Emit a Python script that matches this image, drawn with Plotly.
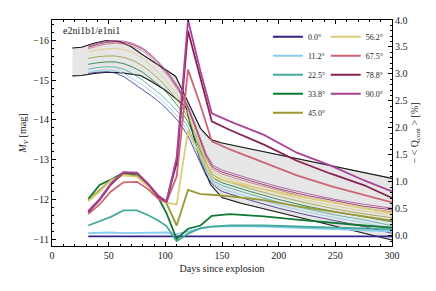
import plotly.graph_objects as go

# ---------------- data ----------------
angles = ["0.0°", "11.2°", "22.5°", "33.8°", "45.0°", "56.2°", "67.5°", "78.8°", "90.0°"]
colors = ["#332288", "#88CCEE", "#44AA99", "#117733", "#999933",
          "#DDCC77", "#CC6677", "#882255", "#AA4499"]

# light curves (M_V, left axis)
lc_days = [32, 40, 48, 56, 64, 72, 80, 88, 96, 104, 112, 120, 128, 136,
           142, 150, 175, 200, 225, 250, 275, 300]
lc_00 = [-15.17, -15.20, -15.21, -15.18, -15.08, -14.93, -14.76, -14.60, -14.42, -14.20, -13.95, -13.60, -13.10, -12.60,
         -12.37, -12.20, -11.98, -11.78, -11.61, -11.47, -11.32, -11.15]
lc_11 = [-15.20, -15.24, -15.26, -15.24, -15.16, -15.03, -14.88, -14.71, -14.52, -14.30, -14.05, -13.70, -13.20, -12.68,
         -12.42, -12.27, -12.05, -11.86, -11.69, -11.54, -11.42, -11.25]
lc_22 = [-15.28, -15.32, -15.34, -15.33, -15.27, -15.15, -15.00, -14.83, -14.64, -14.42, -14.17, -13.82, -13.30, -12.75,
         -12.47, -12.35, -12.13, -11.93, -11.76, -11.61, -11.49, -11.34]
lc_33 = [-15.40, -15.44, -15.46, -15.46, -15.41, -15.32, -15.20, -15.03, -14.84, -14.60, -14.32, -13.95, -13.42, -12.84,
         -12.54, -12.42, -12.20, -12.00, -11.83, -11.69, -11.56, -11.44]
lc_45 = [-15.55, -15.59, -15.61, -15.61, -15.57, -15.49, -15.36, -15.19, -14.98, -14.73, -14.45, -14.06, -13.52, -12.92,
         -12.62, -12.50, -12.27, -12.08, -11.91, -11.76, -11.64, -11.54]
lc_56 = [-15.71, -15.76, -15.79, -15.80, -15.77, -15.69, -15.55, -15.36, -15.13, -14.87, -14.57, -14.16, -13.60, -13.00,
         -12.69, -12.57, -12.35, -12.15, -11.98, -11.83, -11.71, -11.61]
lc_67 = [-15.79, -15.86, -15.91, -15.93, -15.91, -15.85, -15.73, -15.55, -15.32, -15.05, -14.72, -14.27, -13.68, -13.05,
         -12.76, -12.64, -12.42, -12.23, -12.05, -11.91, -11.78, -11.69]
lc_78 = [-15.83, -15.90, -15.95, -15.97, -15.95, -15.89, -15.78, -15.60, -15.37, -15.10, -14.77, -14.31, -13.72, -13.10,
         -12.81, -12.69, -12.47, -12.27, -12.10, -11.96, -11.83, -11.74]
lc_90 = [-15.86, -15.93, -15.98, -16.00, -15.98, -15.92, -15.81, -15.63, -15.40, -15.13, -14.80, -14.35, -13.76, -13.15,
         -12.86, -12.74, -12.52, -12.32, -12.15, -12.00, -11.88, -11.78]

# continuum polarisation (-<Q_cont> [%], right axis)
pol_days = [32, 42, 52, 63, 75, 85, 94, 101, 110, 120, 131, 141, 157, 187, 216, 246, 275, 300]
pol_00 = [-0.01, -0.01, -0.01, -0.01, -0.01, -0.01, -0.01, -0.01, -0.01, -0.01, -0.01, -0.01, -0.01, -0.01, -0.01, -0.01, -0.01, -0.01]
pol_11 = [0.05, 0.06, 0.06, 0.05, 0.05, 0.05, 0.06, 0.06, 0.03, 0.08, 0.13, 0.17, 0.18, 0.17, 0.15, 0.12, 0.10, 0.08]
pol_22 = [0.19, 0.27, 0.35, 0.47, 0.47, 0.38, 0.28, 0.18, -0.10, 0.04, 0.14, 0.17, 0.19, 0.19, 0.17, 0.15, 0.13, 0.12]
pol_33 = [0.68, 0.94, 1.04, 1.17, 1.12, 0.94, 0.70, 0.42, -0.06, 0.13, 0.19, 0.37, 0.40, 0.36, 0.30, 0.24, 0.19, 0.15]
pol_45 = [0.65, 0.85, 1.03, 1.13, 1.11, 0.94, 0.73, 0.60, 0.19, 0.85, 0.77, 0.76, 0.73, 0.66, 0.55, 0.45, 0.36, 0.28]
pol_56 = [0.64, 0.82, 1.03, 1.12, 1.09, 0.91, 0.70, 0.61, 0.58, 1.95, 1.50, 1.08, 1.00, 0.86, 0.74, 0.62, 0.51, 0.42]
pol_67 = [0.40, 0.58, 0.82, 0.99, 1.00, 0.86, 0.68, 0.62, 1.10, 3.08, 2.42, 1.75, 1.60, 1.35, 1.12, 0.92, 0.76, 0.62]
pol_78 = [0.44, 0.66, 0.95, 1.17, 1.16, 0.95, 0.72, 0.64, 1.35, 3.80, 2.92, 2.12, 1.96, 1.69, 1.39, 1.15, 0.94, 0.70]
pol_90 = [0.46, 0.68, 0.97, 1.18, 1.17, 0.96, 0.74, 0.64, 1.45, 4.00, 3.05, 2.27, 2.12, 1.87, 1.54, 1.30, 1.03, 0.82]

# reference models bounding the grey band
e2_days = [18, 26, 37, 48, 60, 70, 80, 90, 100, 109, 120, 131, 140, 150, 300]
e2_mag = [-15.81, -15.83, -15.93, -16.00, -15.97, -15.84, -15.64, -15.45, -15.28, -15.10, -14.45, -13.79, -13.51, -13.42, -12.53]
e1_days = [18, 26, 37, 48, 60, 78, 87, 100, 118, 130, 140, 150, 166, 300]
e1_mag = [-15.11, -15.12, -15.17, -15.20, -15.19, -15.12, -14.98, -14.75, -14.33, -13.05, -12.37, -12.05, -11.91, -10.98]

model_label = "e2ni1b1/e1ni1"

light_curves = [lc_00, lc_11, lc_22, lc_33, lc_45, lc_56, lc_67, lc_78, lc_90]
pol_curves = [pol_00, pol_11, pol_22, pol_33, pol_45, pol_56, pol_67, pol_78, pol_90]

FONT = "Liberation Serif"

fig = go.Figure()

# grey band
fig.add_trace(go.Scatter(
    x=e2_days + e1_days[::-1], y=e2_mag + e1_mag[::-1],
    fill="toself", fillcolor="#e6e6e6", mode="lines",
    line=dict(color="#9a9a9a", width=0.6), showlegend=False, hoverinfo="skip"))
fig.add_trace(go.Scatter(x=e2_days, y=e2_mag, mode="lines",
                         line=dict(color="#1a1a1a", width=1.1), showlegend=False))
fig.add_trace(go.Scatter(x=e1_days, y=e1_mag, mode="lines",
                         line=dict(color="#1a1a1a", width=1.1), showlegend=False))

# thin light curves
for name, col, lc in zip(angles, colors, light_curves):
    fig.add_trace(go.Scatter(x=lc_days, y=lc, mode="lines", name=name,
                             line=dict(color=col, width=0.8), showlegend=False))

# thick polarisation curves
for i, (name, col, pc) in enumerate(zip(angles, colors, pol_curves)):
    fig.add_trace(go.Scatter(x=pol_days, y=pc, mode="lines", name=name, yaxis="y2",
                             line=dict(color=col, width=1.8),
                             legend="legend" if i < 5 else "legend2"))

axis_common = dict(showline=True, linecolor="black", linewidth=1.2, ticks="inside",
                   tickcolor="black", ticklen=4, showgrid=False, zeroline=False,
                   tickfont=dict(family=FONT, size=10, color="#222"))

# the page body has an 8px margin, so the figure is sized to fit the window
fig.update_layout(
    width=428, height=283,
    margin=dict(l=44, r=44, t=6, b=45),
    paper_bgcolor="white", plot_bgcolor="white",
    font=dict(family=FONT, size=10, color="#222"),
    xaxis=dict(range=[0, 300], tickvals=[0, 50, 100, 150, 200, 250, 300], mirror="ticks",
               minor=dict(dtick=10, ticklen=2, ticks="inside", tickcolor="black"),
               title=dict(text="Days since explosion", font=dict(family=FONT, size=10), standoff=4),
               **axis_common),
    yaxis=dict(range=[-10.83, -16.515], dtick=1, mirror=True,
               minor=dict(dtick=0.2, ticklen=2, ticks="inside", tickcolor="black"),
               title=dict(text="<i>M</i><sub><i>V</i></sub> [mag]", font=dict(family=FONT, size=10), standoff=4),
               **axis_common),
    yaxis2=dict(range=[-0.19, 4.0], dtick=0.5, tickformat=".1f", overlaying="y", side="right",
                minor=dict(dtick=0.1, ticklen=2, ticks="inside", tickcolor="black"),
                title=dict(text="− &lt; Q<sub>cont</sub> &gt; [%]", font=dict(family=FONT, size=10), standoff=4),
                **axis_common),
    legend=dict(x=0.635, y=0.99, xanchor="left", yanchor="top", bgcolor="rgba(0,0,0,0)",
                font=dict(family=FONT, size=8), itemwidth=30, tracegroupgap=0),
    legend2=dict(x=0.805, y=0.99, xanchor="left", yanchor="top", bgcolor="rgba(0,0,0,0)",
                 font=dict(family=FONT, size=8), itemwidth=30, tracegroupgap=0),
    annotations=[dict(text=model_label, xref="paper", yref="paper", x=0.025, y=0.985,
                      xanchor="left", yanchor="top", showarrow=False,
                      font=dict(family=FONT, size=10, color="#222"))],
)

fig.write_html("out.html")
